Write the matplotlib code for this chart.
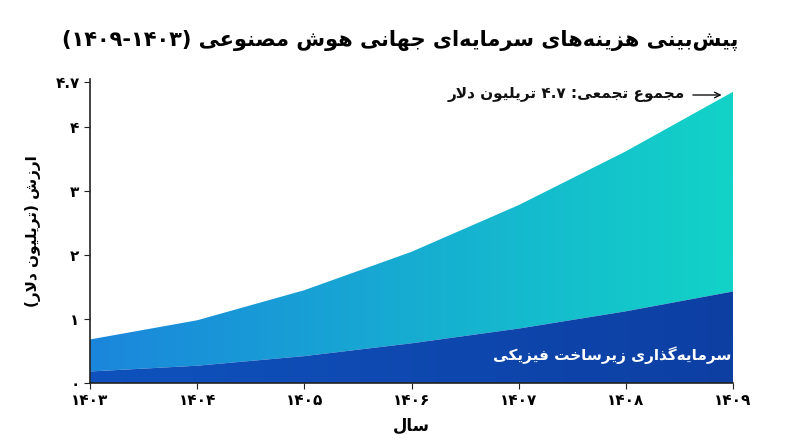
import unicodedata
import numpy as np
import matplotlib
matplotlib.use("Agg")
import matplotlib.pyplot as plt
from matplotlib.colors import LinearSegmentedColormap

years = ["۱۴۰۳", "۱۴۰۴", "۱۴۰۵", "۱۴۰۶", "۱۴۰۷", "۱۴۰۸", "۱۴۰۹"]
total = [0.68, 0.98, 1.45, 2.05, 2.78, 3.62, 4.55]
infra = [0.18, 0.27, 0.42, 0.62, 0.85, 1.12, 1.43]
yticks = [0, 1, 2, 3, 4, 4.7]
ytick_labels = ["۰", "۱", "۲", "۳", "۴", "۴.۷"]

# --- minimal Arabic/Persian shaping + bidi ---
FORMS = {}
for cp in list(range(0xFB50, 0xFE00)) + list(range(0xFE70, 0xFF00)):
    d = unicodedata.decomposition(chr(cp)).split()
    if len(d) == 2 and d[0] in ("<isolated>", "<final>", "<initial>", "<medial>"):
        FORMS.setdefault(chr(int(d[1], 16)), {})[d[0][1:-1]] = chr(cp)

def dual(c):
    return c in FORMS and "initial" in FORMS[c]

def canfinal(c):
    return c in FORMS and "final" in FORMS[c]

def shape(s):
    out = []
    chars = list(s)
    i = 0
    n = len(chars)
    while i < n:
        c = chars[i]
        prev = chars[i - 1] if i > 0 else ""
        if c == "ل" and i + 1 < n and chars[i + 1] == "ا":
            jp = dual(prev)
            out.append("\uFEFC" if jp else "\uFEFB")
            i += 2
            continue
        if c not in FORMS:
            if c != "\u200c":
                out.append(c)
            i += 1
            continue
        nxt = chars[i + 1] if i + 1 < n else ""
        jp = dual(prev) and canfinal(c)
        jn = dual(c) and canfinal(nxt)
        f = FORMS[c]
        if jp and jn and "medial" in f:
            out.append(f["medial"])
        elif jp:
            out.append(f.get("final", c))
        elif jn:
            out.append(f.get("initial", c))
        else:
            out.append(f.get("isolated", c))
        i += 1
    return "".join(out)

def fa(s):
    s = shape(s)
    runs = []
    i = 0
    while i < len(s):
        if s[i].isdigit():
            j = i
            while j < len(s) and (s[j].isdigit() or (s[j] == "." and j + 1 < len(s) and s[j + 1].isdigit())):
                j += 1
            runs.append(s[i:j])
            i = j
        else:
            c = {"(": ")", ")": "("}.get(s[i], s[i])
            runs.append(c)
            i += 1
    return "".join(reversed(runs))

plt.rcParams["font.family"] = ["DejaVu Sans"]

fig = plt.figure(figsize=(8, 4.47), dpi=100)
ax = fig.add_axes([90 / 800, (447 - 383) / 447, (733 - 90) / 800, 304 / 447])
x = np.arange(len(years))

def grad_fill(lo, hi, c1, c2):
    poly = ax.fill_between(x, lo, hi, color="none", lw=0)
    cmap = LinearSegmentedColormap.from_list("g", [c1, c2])
    img = ax.imshow(np.linspace(0, 1, 256)[None, :], cmap=cmap, aspect="auto",
                    extent=[x[0], x[-1], 0, 5], origin="lower", zorder=1)
    img.set_clip_path(poly.get_paths()[0], transform=ax.transData)

grad_fill(infra, total, "#1b86dc", "#12d3c7")
grad_fill([0] * len(x), infra, "#0f52bd", "#0d3fa3")

ax.set_xlim(x[0], x[-1])
ax.set_ylim(0, 4.75)
ax.set_xticks(x)
ax.set_xticklabels(years, fontsize=11, fontweight="bold")
ax.set_yticks(yticks)
ax.set_yticklabels(ytick_labels, fontsize=11, fontweight="bold")
for sp in ["top", "right"]:
    ax.spines[sp].set_visible(False)
for sp in ["left", "bottom"]:
    ax.spines[sp].set_color("#222222")
    ax.spines[sp].set_linewidth(1.2)
ax.tick_params(length=4, color="#222222")
ax.set_xlabel(fa("سال"), fontsize=12, fontweight="bold", labelpad=6)
ax.set_ylabel(fa("ارزش (تریلیون دلار)"), fontsize=11, fontweight="bold", labelpad=10)

fig.text(0.5, 0.91, fa("پیش‌بینی هزینه‌های سرمایه‌ای جهانی هوش مصنوعی (۱۴۰۳-۱۴۰۹)"),
         ha="center", va="center", fontsize=15, fontweight="bold")

ax.annotate("", xy=(5.92, 4.5), xytext=(5.6, 4.5),
            arrowprops=dict(arrowstyle="->", color="#111111", lw=1))
ax.text(5.55, 4.5, fa("مجموع تجمعی: ۴.۷ تریلیون دلار"), ha="right", va="center",
        fontsize=11, fontweight="bold", color="#111111")
ax.text(4.87, 0.44, fa("سرمایه‌گذاری زیرساخت فیزیکی"), ha="center", va="center",
        fontsize=11, fontweight="bold", color="white", zorder=3)

fig.savefig("out.png", dpi=100)
